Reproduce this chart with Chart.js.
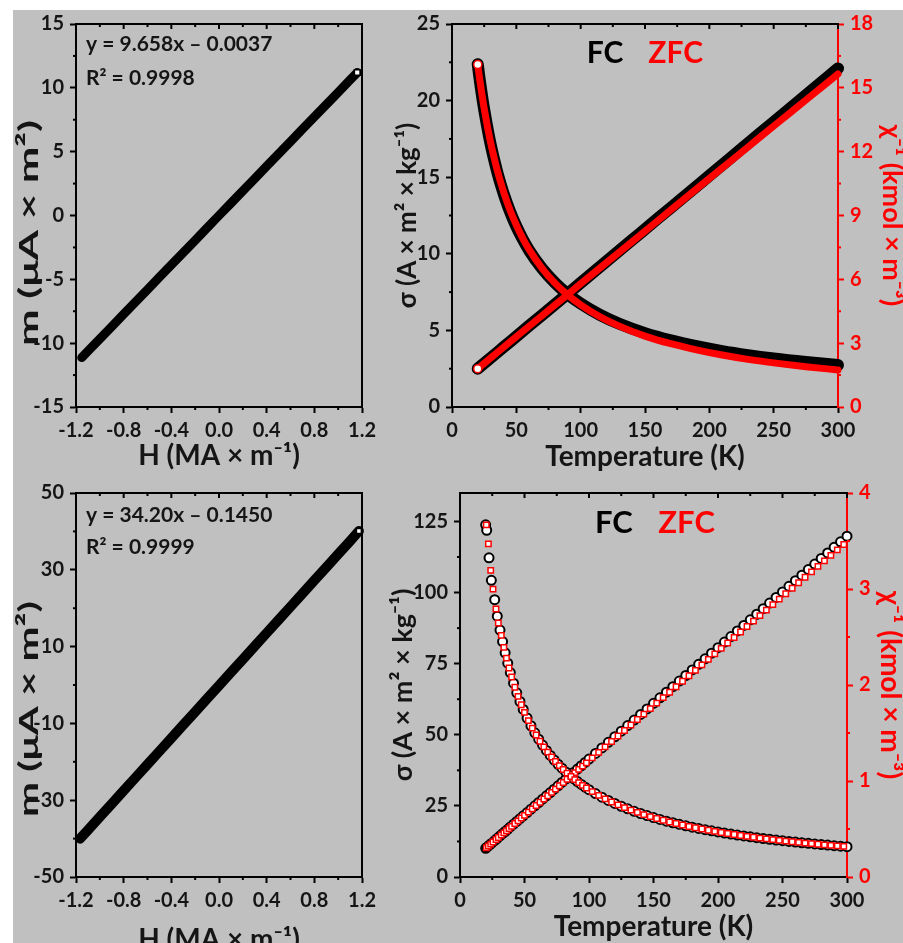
<!DOCTYPE html>
<html><head><meta charset="utf-8">
<script src="https://cdn.jsdelivr.net/npm/chart.js@4.4.0/dist/chart.umd.min.js"></script>
<style>
html,body{margin:0;padding:0;background:#fff;width:903px;height:943px;overflow:hidden;}
#bg{position:absolute;left:13px;top:10px;width:890px;height:933px;background:#c0c0c0;}
canvas{position:absolute;}
</style></head><body>
<div id="bg"></div>
<canvas id="c1" width="380" height="474" style="left:13px;top:6px;width:380px;height:474px"></canvas>
<canvas id="c2" width="518" height="474" style="left:385px;top:6px;width:518px;height:474px"></canvas>
<canvas id="c3" width="380" height="468" style="left:13px;top:475px;width:380px;height:468px"></canvas>
<canvas id="c4" width="518" height="468" style="left:385px;top:475px;width:518px;height:468px"></canvas>
<script>
// ---------- Panel A: m vs H (sample 1) ----------
const hA = [-1.152,-1.1,-1.0,-0.9,-0.8,-0.7,-0.6,-0.5,-0.4,-0.3,-0.2,-0.1,0.0,0.1,0.2,0.3,0.4,0.5,0.6,0.7,0.8,0.9,1.0,1.1,1.16];
const mA = [-11.13,-10.63,-9.66,-8.70,-7.73,-6.76,-5.80,-4.83,-3.87,-2.90,-1.94,-0.97,0.00,0.96,1.93,2.89,3.86,4.83,5.79,6.76,7.72,8.69,9.65,10.62,11.20];
const hTicks = [-1.2,-0.8,-0.4,0.0,0.4,0.8,1.2];
const hTickLabels = ['-1.2','-0.8','-0.4','0.0','0.4','0.8','1.2'];
const mATicks = [-15,-10,-5,0,5,10,15];
const mATickLabels = ['-15','-10','-5','0','5','10','15'];

// ---------- Panel C: m vs H (sample 2) ----------
const hC = [-1.166,-1.1,-1.0,-0.9,-0.8,-0.7,-0.6,-0.5,-0.4,-0.3,-0.2,-0.1,0.0,0.1,0.2,0.3,0.4,0.5,0.6,0.7,0.8,0.9,1.0,1.1,1.174];
const mC = [-40.02,-37.77,-34.35,-30.93,-27.51,-24.09,-20.67,-17.25,-13.83,-10.41,-6.99,-3.57,-0.15,3.28,6.70,10.12,13.54,16.96,20.38,23.80,27.22,30.64,34.06,37.48,40.10];
const mCTicks = [-50,-30,-10,10,30,50];
const mCTickLabels = ['-50','-30','-10','10','30','50'];

// ---------- Panel B: sigma & chi^-1 vs T (sample 1) ----------
const tB = [20,21,22,23,24,25,27,29,31,33,35,38,41,45,50,55,60,70,80,90,100,115,130,150,170,190,210,230,250,275,300];
const sigmaFC_B  = [22.38,21.71,21.09,20.50,19.94,19.42,18.45,17.57,16.78,16.06,15.39,14.50,13.71,12.78,11.79,10.95,10.22,9.04,8.11,7.36,6.75,6.01,5.43,4.82,4.35,3.97,3.65,3.39,3.17,2.94,2.74];
const sigmaZFC_B = [22.35,21.71,21.11,20.54,20.00,19.49,18.54,17.67,16.89,16.17,15.51,14.62,13.82,12.88,11.88,11.01,10.27,9.05,8.09,7.31,6.67,5.89,5.28,4.63,4.13,3.73,3.39,3.11,2.88,2.63,2.42];
const tChiB = [20,40,60,80,100,120,140,160,180,200,220,240,260,280,300];
const chiFC_B  = [1.80,2.81,3.82,4.82,5.83,6.84,7.85,8.86,9.86,10.87,11.88,12.89,13.90,14.90,15.91];
const chiZFC_B = [1.80,2.80,3.80,4.79,5.79,6.78,7.77,8.76,9.75,10.74,11.72,12.71,13.69,14.67,15.65];
const tTicks = [0,50,100,150,200,250,300];
const tTickLabels = ['0','50','100','150','200','250','300'];
const sigmaBTicks = [0,5,10,15,20,25];
const sigmaBTickLabels = ['0','5','10','15','20','25'];
const chiBTicks = [0,3,6,9,12,15,18];
const chiBTickLabels = ['0','3','6','9','12','15','18'];

// ---------- Panel D: sigma & chi^-1 vs T (sample 2) ----------
const tFC_D = [19.9,20.7,22.5,24.3,26.9,28.9,31,33,35,37,39,41.5,44,46.5,49,52,55,58,61,64,67,70,73,76,79,82,85,88,91,94,97,100,105,110,115,120,125,130,135,140,145,150,155,160,165,170,175,180,185,190,195,200,205,210,215,220,225,230,235,240,245,250,255,260,265,270,275,280,285,290,295,300];
const sigmaFC_D = [123.8,121.9,112.2,104.3,97.5,91.7,86.8,82.78,78.80,75.17,71.87,68.13,64.75,61.70,58.92,55.90,53.17,50.70,48.44,46.38,44.49,42.75,41.13,39.64,38.25,36.95,35.74,34.60,33.54,32.54,31.59,30.70,29.33,28.07,26.91,25.85,24.87,23.96,23.11,22.32,21.58,20.89,20.25,19.64,19.07,18.53,18.02,17.53,17.08,16.64,16.23,15.84,15.46,15.10,14.76,14.44,14.13,13.83,13.54,13.27,13.00,12.75,12.50,12.27,12.04,11.83,11.62,11.41,11.22,11.03,10.85,10.67];
const chiFC_D = [0.299,0.308,0.329,0.350,0.380,0.403,0.428,0.451,0.474,0.497,0.521,0.550,0.579,0.608,0.637,0.671,0.706,0.741,0.776,0.811,0.846,0.880,0.915,0.950,0.985,1.020,1.054,1.089,1.124,1.159,1.194,1.229,1.287,1.345,1.403,1.461,1.519,1.577,1.635,1.693,1.751,1.809,1.867,1.925,1.983,2.041,2.099,2.157,2.215,2.273,2.331,2.389,2.447,2.505,2.563,2.621,2.679,2.737,2.795,2.854,2.912,2.970,3.028,3.086,3.144,3.202,3.260,3.318,3.376,3.434,3.492,3.550];
const tZFC_D = [20.4,22,23.8,25.6,27.9,29.7,32,34,36,38,40,42.5,45,47.5,50,53,56,59,62,65,68,71,74,77,80,83,86,89,92,95,98,102.5,107.5,112.5,117.5,122.5,127.5,132.5,137.5,142.5,147.5,152.5,157.5,162.5,167.5,172.5,177.5,182.5,187.5,192.5,197.5,202.5,207.5,212.5,217.5,222.5,227.5,232.5,237.5,242.5,247.5,252.5,257.5,262.5,267.5,272.5,277.5,282.5,287.5,292.5,297.5];
const sigmaZFC_D = [123.8,117.1,107.8,101.2,94.2,89.3,84.94,80.74,76.94,73.48,70.32,66.73,63.50,60.56,57.88,54.96,52.32,49.92,47.74,45.73,43.89,42.19,40.62,39.16,37.80,36.54,35.35,34.24,33.20,32.22,31.29,30.00,28.68,27.48,26.37,25.35,24.40,23.53,22.71,21.95,21.23,20.57,19.94,19.35,18.79,18.27,17.77,17.30,16.86,16.43,16.03,15.65,15.28,14.93,14.60,14.28,13.97,13.68,13.40,13.13,12.87,12.63,12.39,12.16,11.93,11.72,11.51,11.31,11.12,10.94,10.76];
const chiZFC_D = [0.305,0.323,0.343,0.364,0.390,0.411,0.437,0.460,0.482,0.505,0.528,0.557,0.585,0.614,0.642,0.676,0.710,0.745,0.779,0.813,0.847,0.881,0.916,0.950,0.984,1.018,1.052,1.087,1.121,1.155,1.189,1.241,1.298,1.355,1.412,1.469,1.526,1.583,1.640,1.697,1.754,1.811,1.868,1.925,1.982,2.039,2.096,2.153,2.210,2.267,2.324,2.381,2.438,2.495,2.552,2.609,2.666,2.723,2.780,2.837,2.894,2.951,3.008,3.065,3.122,3.179,3.236,3.293,3.350,3.407,3.464];
const sigmaDTicks = [0,25,50,75,100,125];
const sigmaDTickLabels = ['0','25','50','75','100','125'];
const chiDTicks = [0,1,2,3,4];
const chiDTickLabels = ['0','1','2','3','4'];

// ---------- helpers ----------
const FONT = 'Lato, "Open Sans", "DejaVu Sans", sans-serif';
Chart.defaults.font.family = FONT;
Chart.defaults.font.weight = 'bold';
Chart.defaults.color = '#151515';
const RED = '#ff0000';
const tickFont = {size: 20, weight: 'bold', family: FONT};
function tFont(size){ return {size: size, weight: 'bold', family: FONT, lineHeight: 0.2}; }

function mids(a){ const o=[]; for(let i=0;i<a.length-1;i++) o.push((a[i]+a[i+1])/2); return o; }
function pts(xs, ys){ return xs.map((x,i)=>({x:x, y:ys[i]})); }

// c.titleOff = distance (px) from the outer edge of the axis box to the title's middle line
function axis(c){
  const col = c.color || '#000';
  const f = tFont(c.titleSize || 20);
  const pad = Math.max(0, (c.titleOff || 0) - (c.titleSize || 20) * 0.1);
  return {
    type:'linear', position:c.position, min:c.min, max:c.max,
    afterBuildTicks: s => { s.ticks = c.ticks.map(v => ({value:v})); },
    afterFit: s => { if (s.isHorizontal()) s.height = c.size; else s.width = c.size; },
    ticks:{autoSkip:false, maxRotation:0, minRotation:0, padding:6, color:c.color || '#151515', font:tickFont,
           callback:(v,i)=>c.labels[i]},
    grid:{display:true, drawOnChartArea:false, drawTicks:true, tickLength:6, tickWidth:2, tickColor:col, color:col},
    border:{display:true, width:2, color:col},
    title:{display:!!c.title, text:c.title || '', color:c.color || '#151515', font:f,
           padding: (c.position==='bottom') ? {top:0,bottom:pad} : {top:pad,bottom:0}}
  };
}

const decor = {
  id:'decor',
  afterDatasetsDraw(chart, args, o){
    const ctx = chart.ctx, a = chart.chartArea, xs = chart.scales.x, ys = chart.scales.y, y2 = chart.scales.y2;
    ctx.save();
    const ln = (x1,y1,x2,yb,c,w)=>{ ctx.strokeStyle=c; ctx.lineWidth=w; ctx.beginPath(); ctx.moveTo(x1,y1); ctx.lineTo(x2,yb); ctx.stroke(); };
    ln(a.left-1, a.top, a.right+1, a.top, '#000', 2);
    if (o.rightFrame) ln(a.right, a.top-1, a.right, a.bottom+1, '#000', 2);
    o.xMajor.forEach(v=>{ const p=xs.getPixelForValue(v); ln(p,a.top,p,a.top+5,'#000',2); });
    o.xMinor.forEach(v=>{ const p=xs.getPixelForValue(v); ln(p,a.top,p,a.top+3,'#000',2); ln(p,a.bottom,p,a.bottom+3,'#000',2); });
    o.yMinor.forEach(v=>{ const p=ys.getPixelForValue(v); ln(a.left-3,p,a.left,p,'#000',2); });
    if (y2 && o.y2Minor) o.y2Minor.forEach(v=>{ const p=y2.getPixelForValue(v); ln(a.right,p,a.right+3,p,RED,2); });
    (o.texts||[]).forEach(t=>{ ctx.font=t.font; ctx.fillStyle=t.color; ctx.textBaseline='alphabetic'; ctx.textAlign='left'; ctx.fillText(t.text,t.x,t.y); });
    if (o.yTitle) {
      const t = o.yTitle;
      ctx.font = 'bold ' + t.size + 'px ' + FONT;
      const w = ctx.measureText(t.text).width;
      ctx.translate(t.x, t.y);
      ctx.rotate(-Math.PI/2);
      ctx.scale(t.length / w, 1);
      ctx.textAlign = 'left'; ctx.textBaseline = 'alphabetic'; ctx.fillStyle = '#151515';
      ctx.fillText(t.text, 0, 0);
    }
    ctx.restore();
  }
};

const base = { responsive:false, animation:false, devicePixelRatio:1, events:[] };
const noPlug = { legend:{display:false}, tooltip:{enabled:false} };

// ---------- Panel A ----------
new Chart(document.getElementById('c1'), {
  type:'scatter',
  data:{datasets:[{
    data:pts(hA,mA), showLine:true, borderColor:'#000', borderWidth:9, borderCapStyle:'round', borderJoinStyle:'round',
    pointRadius:c=>c.dataIndex===hA.length-1?4:0, pointStyle:'rect', pointBackgroundColor:'#fff', pointBorderColor:'#000', pointBorderWidth:1.5, clip:10
  }]},
  options:{...base, layout:{padding:{left:0,top:14,right:31,bottom:0}},
    scales:{
      x:axis({position:'bottom',min:-1.2,max:1.2,ticks:hTicks,labels:hTickLabels,size:73,title:'H (MA × m⁻¹)',titleSize:28,titleOff:24}),
      y:axis({position:'left',min:-15,max:15,ticks:mATicks,labels:mATickLabels,size:63})
    },
    plugins:{...noPlug, decor:{rightFrame:true, xMajor:hTicks, xMinor:mids(hTicks), yMinor:mids(mATicks),
      yTitle:{text:'m (μA × m²)', size:27, length:226, x:25, y:340},
      texts:[{text:'y = 9.658x – 0.0037',x:73,y:45,font:'bold 21px '+FONT,color:'#151515'},
             {text:'R² = 0.9998',x:73,y:79,font:'bold 21px '+FONT,color:'#151515'}]}}
  },
  plugins:[decor]
});

// ---------- Panel C ----------
new Chart(document.getElementById('c3'), {
  type:'scatter',
  data:{datasets:[{
    data:pts(hC,mC), showLine:true, borderColor:'#000', borderWidth:10, borderCapStyle:'round', borderJoinStyle:'round',
    pointRadius:c=>c.dataIndex===hC.length-1?3.5:0, pointStyle:'rect', pointBackgroundColor:'#fff', pointBorderColor:'#000', pointBorderWidth:1.5, clip:10
  }]},
  options:{...base, layout:{padding:{left:0,top:14,right:31,bottom:0}},
    scales:{
      x:axis({position:'bottom',min:-1.2,max:1.2,ticks:hTicks,labels:hTickLabels,size:66,title:'H (MA × m⁻¹)',titleSize:28,titleOff:2.8}),
      y:axis({position:'left',min:-50,max:50,ticks:mCTicks,labels:mCTickLabels,size:63})
    },
    plugins:{...noPlug, decor:{rightFrame:true, xMajor:hTicks, xMinor:mids(hTicks), yMinor:mids(mCTicks),
      yTitle:{text:'m (μA × m²)', size:27, length:216, x:25, y:342},
      texts:[{text:'y = 34.20x – 0.1450',x:73,y:47,font:'bold 21px '+FONT,color:'#151515'},
             {text:'R² = 0.9999',x:73,y:79,font:'bold 21px '+FONT,color:'#151515'}]}}
  },
  plugins:[decor]
});

// ---------- Panel B ----------
const bandBlack = {showLine:true, borderColor:'#000', borderWidth:12, borderCapStyle:'round', borderJoinStyle:'round', cubicInterpolationMode:'monotone', pointRadius:0, order:2, clip:12};
const bandRed = {showLine:true, borderColor:RED, borderWidth:7, borderCapStyle:'round', borderJoinStyle:'round', cubicInterpolationMode:'monotone',
  pointRadius:c=>c.dataIndex===0?4:0, pointBackgroundColor:'#fff', pointBorderColor:RED, pointBorderWidth:1.5, order:1, clip:12};
new Chart(document.getElementById('c2'), {
  type:'scatter',
  data:{datasets:[
    {...bandRed, data:pts(tB,sigmaZFC_B), yAxisID:'y'},
    {...bandRed, data:pts(tChiB,chiZFC_B), yAxisID:'y2'},
    {...bandBlack, data:pts(tB,sigmaFC_B), yAxisID:'y'},
    {...bandBlack, data:pts(tChiB,chiFC_B), yAxisID:'y2'}
  ]},
  options:{...base, layout:{padding:{left:0,top:14,right:0,bottom:0}},
    scales:{
      x:axis({position:'bottom',min:0,max:300,ticks:tTicks,labels:tTickLabels,size:73,title:'Temperature (K)',titleSize:28,titleOff:23}),
      y:axis({position:'left',min:0,max:25,ticks:sigmaBTicks,labels:sigmaBTickLabels,size:67,title:'σ (A × m² × kg⁻¹)',titleSize:26,titleOff:23}),
      y2:axis({position:'right',min:0,max:18,ticks:chiBTicks,labels:chiBTickLabels,size:65,title:'χ⁻¹ (kmol × m⁻³)',titleSize:27,titleOff:11.5,color:RED})
    },
    plugins:{...noPlug, decor:{rightFrame:false, xMajor:tTicks, xMinor:mids(tTicks), yMinor:mids(sigmaBTicks), y2Minor:mids(chiBTicks),
      texts:[{text:'FC',x:201.7,y:57.3,font:'bold 30px '+FONT,color:'#000'},
             {text:'ZFC',x:263.3,y:57.3,font:'bold 30px '+FONT,color:RED}]}}
  },
  plugins:[decor]
});

// ---------- Panel D ----------
const dotBlack = {pointStyle:'circle', pointRadius:4.5, pointBorderWidth:2, pointBackgroundColor:'#fff', pointBorderColor:'#000', order:2, clip:12};
const dotRed = {pointStyle:'rect', pointRadius:3.8, pointBorderWidth:1.5, pointBackgroundColor:'#fff', pointBorderColor:RED, order:1, clip:12};
new Chart(document.getElementById('c4'), {
  type:'scatter',
  data:{datasets:[
    {...dotRed, data:pts(tZFC_D,sigmaZFC_D), yAxisID:'y'},
    {...dotRed, data:pts(tZFC_D,chiZFC_D), yAxisID:'y2'},
    {...dotBlack, data:pts(tFC_D,sigmaFC_D), yAxisID:'y'},
    {...dotBlack, data:pts(tFC_D,chiFC_D), yAxisID:'y2'}
  ]},
  options:{...base, layout:{padding:{left:0,top:14,right:0,bottom:0}},
    scales:{
      x:axis({position:'bottom',min:0,max:300,ticks:tTicks,labels:tTickLabels,size:66,title:'Temperature (K)',titleSize:28,titleOff:16}),
      y:axis({position:'left',min:0,max:135,ticks:sigmaDTicks,labels:sigmaDTickLabels,size:75,title:'σ (A × m² × kg⁻¹)',titleSize:27,titleOff:18.5}),
      y2:axis({position:'right',min:0,max:4,ticks:chiDTicks,labels:chiDTickLabels,size:56,title:'χ⁻¹ (kmol × m⁻³)',titleSize:28,titleOff:13,color:RED})
    },
    plugins:{...noPlug, decor:{rightFrame:false, xMajor:tTicks, xMinor:mids(tTicks), yMinor:mids(sigmaDTicks), y2Minor:mids(chiDTicks),
      texts:[{text:'FC',x:210,y:58.3,font:'bold 31px '+FONT,color:'#000'},
             {text:'ZFC',x:273.3,y:58.3,font:'bold 31px '+FONT,color:RED}]}}
  },
  plugins:[decor]
});
</script>
</body></html>
